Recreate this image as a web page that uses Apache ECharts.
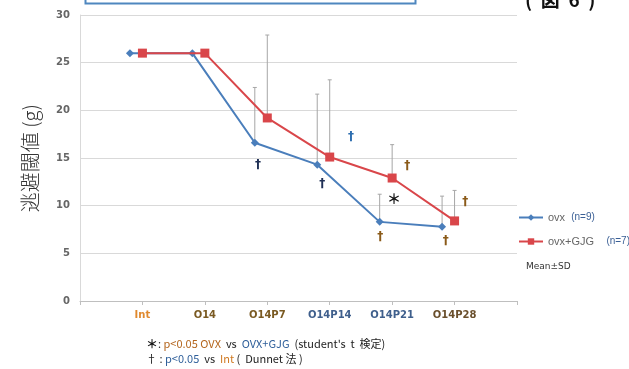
<!DOCTYPE html>
<html>
<head>
<meta charset="utf-8">
<script src="https://cdn.jsdelivr.net/npm/echarts@6/dist/echarts.min.js"></script>
<style>
html,body{margin:0;padding:0;background:#fff;}
#chart{width:629px;height:369px;}
</style>
</head>
<body>
<div id="chart"></div>
<script>
// Time points on the x axis (axis runs 0..7, groups sit at 1..6)
var tickLabels = ['', 'Int', 'O14', 'O14P7', 'O14P14', 'O14P21', 'O14P28', ''];
var tickColors = ['#333', '#e0892e', '#7a5a22', '#7a5a22', '#3f5f8c', '#3f5f8c', '#6a4f2c', '#333'];

// Escape threshold (g), mean and SD
var ovxMean = [26.0, 26.0, 16.6, 14.3, 8.3, 7.8];
var ovxSD   = [null, null, 5.8, 7.4, 2.9, 3.2];
var gjgMean = [26.0, 26.0, 19.2, 15.1, 12.9, 8.4];
var gjgSD   = [null, null, 8.7, 8.1, 3.5, 3.2];

// Significance marks in data coordinates: [x, y, glyph, colour]
var marks = [
  [2.85, 14.3, '†', '#1f2f55'],
  [3.88, 12.3, '†', '#1f2f55'],
  [4.34, 17.2, '†', '#2f6fb0'],
  [5.24, 14.2, '†', '#8a5a18'],
  [5.03, 10.7, '＊', '#111'],
  [4.81, 6.7, '†', '#8a5a18'],
  [5.86, 6.3, '†', '#8a5a18'],
  [6.17, 10.4, '†', '#8a5a18']
];

var blueShift = -0.2;
var ovxPts = ovxMean.map(function (v, i) { return [i + 1 + blueShift, v]; });
var gjgPts = gjgMean.map(function (v, i) { return [i + 1, v]; });
var ovxErr = ovxMean.map(function (v, i) { return [i + 1 + blueShift, v, ovxSD[i]]; }).filter(function (d) { return d[2] != null; });
var gjgErr = gjgMean.map(function (v, i) { return [i + 1, v, gjgSD[i]]; }).filter(function (d) { return d[2] != null; });

function errorBar(params, api) {
  var x = api.value(0), m = api.value(1), s = api.value(2);
  var p0 = api.coord([x, m]);
  var p1 = api.coord([x, m + s]);
  var st = { stroke: '#a6a6a6', lineWidth: 1 };
  return {
    type: 'group',
    children: [
      { type: 'line', shape: { x1: p0[0], y1: p0[1], x2: p1[0], y2: p1[1] }, style: st },
      { type: 'line', shape: { x1: p1[0] - 2, y1: p1[1], x2: p1[0] + 2, y2: p1[1] }, style: st }
    ]
  };
}

function markText(params, api) {
  var d = marks[params.dataIndex];
  var p = api.coord([d[0], d[1]]);
  return {
    type: 'text',
    x: p[0], y: p[1],
    style: {
      text: d[2], fill: d[3],
      font: d[2] === '†' ? 'bold 12px "DejaVu Sans"' : 'bold 14px "Noto Sans CJK JP"',
      align: 'center', verticalAlign: 'middle'
    }
  };
}

var chart = echarts.init(document.getElementById('chart'));
chart.setOption({
  animation: false,
  backgroundColor: '#fff',
  grid: { left: 80, right: 112, top: 15, bottom: 68 },
  xAxis: {
    type: 'value', min: 0, max: 7, interval: 1,
    axisLine: { show: true, lineStyle: { color: '#bfbfbf' } },
    axisTick: { show: true, length: 4, lineStyle: { color: '#bfbfbf' } },
    splitLine: { show: false },
    axisLabel: {
      margin: 9,
      fontFamily: 'DejaVu Sans', fontSize: 10, fontWeight: 'bold',
      formatter: function (v) { return tickLabels[Math.round(v)] || ''; },
      color: function (v) { return tickColors[Math.round(v)] || '#333'; }
    }
  },
  yAxis: {
    type: 'value', min: 0, max: 30, interval: 5,
    name: '逃避閾値 (g)', nameLocation: 'middle', nameRotate: 90, nameGap: 40,
    nameTextStyle: { fontFamily: 'Noto Sans CJK JP', fontSize: 20, fontWeight: 300, color: '#333' },
    axisLine: { show: true, lineStyle: { color: '#d9d9d9' } },
    axisTick: { show: false },
    splitLine: { lineStyle: { color: '#d9d9d9' } },
    axisLabel: { margin: 10, fontFamily: 'DejaVu Sans', fontSize: 10, fontWeight: 'bold', color: '#666' }
  },
  legend: {
    orient: 'vertical', left: 513, top: 207, itemGap: 13,
    itemWidth: 24, itemHeight: 8,
    textStyle: {
      fontFamily: 'Liberation Sans', fontSize: 11, color: '#666',
      rich: { n: { fontFamily: 'Liberation Sans', fontSize: 10, color: '#3a5f95' } }
    },
    data: ['ovx', 'ovx+GJG'],
    formatter: function (name) {
      return name === 'ovx' ? 'ovx  {n|(n=9)}' : 'ovx+GJG    {n|(n=7)}';
    }
  },
  series: [
    { type: 'custom', name: 'ovxSD', renderItem: errorBar, data: ovxErr, z: 1, silent: true,
      encode: { x: 0, y: [1, 2] } },
    { type: 'custom', name: 'gjgSD', renderItem: errorBar, data: gjgErr, z: 1, silent: true,
      encode: { x: 0, y: [1, 2] } },
    { type: 'line', name: 'ovx', data: ovxPts, symbol: 'diamond', symbolSize: 8,
      itemStyle: { color: '#4a7ebb' }, lineStyle: { color: '#4a7ebb', width: 2 }, z: 3 },
    { type: 'line', name: 'ovx+GJG', data: gjgPts, symbol: 'rect', symbolSize: 9,
      itemStyle: { color: '#d9464a' }, lineStyle: { color: '#d9464a', width: 2 }, z: 4 },
    { type: 'custom', name: 'marks', renderItem: markText, data: marks.map(function (m) { return [m[0], m[1]]; }),
      z: 5, silent: true, encode: { x: 0, y: 1 } }
  ],
  graphic: [
    { type: 'rect', left: 83, top: -20, shape: { width: 330, height: 21 },
      style: { fill: 'none', stroke: '#4f87bf', lineWidth: 2 } },
    { type: 'text', left: 525, top: -10,
      style: { text: '(  図  6  )', font: 'bold 19px "Noto Sans CJK JP"', fill: '#111' } },
    { type: 'text', left: 526, top: 262,
      style: { text: 'Mean±SD', font: '9px "DejaVu Sans"', fill: '#333' } },
    { type: 'text', left: 146, top: 338,
      style: {
        text: '{k|＊}{d|: }{o|p<0.05 OVX}{d|  vs  }{b|OVX+GJG}{d|  (student\'s  t  検定)}',
        rich: {
          k: { font: 'bold 12px "Noto Sans CJK JP"', fill: '#111' },
          d: { font: '11px "Noto Sans CJK JP"', fill: '#222' },
          o: { font: '11px "Noto Sans CJK JP"', fill: '#b4661e' },
          b: { font: '11px "Noto Sans CJK JP"', fill: '#2f5f9a' }
        }
      } },
    { type: 'text', left: 146, top: 353,
      style: {
        text: '{d|† : }{b|p<0.05}{d|  vs  }{o|Int}{d| (  Dunnet 法 )}',
        rich: {
          d: { font: '11px "Noto Sans CJK JP"', fill: '#222' },
          o: { font: '11px "Noto Sans CJK JP"', fill: '#d07a22' },
          b: { font: '11px "Noto Sans CJK JP"', fill: '#2f5f9a' }
        }
      } }
  ]
});
</script>
</body>
</html>
